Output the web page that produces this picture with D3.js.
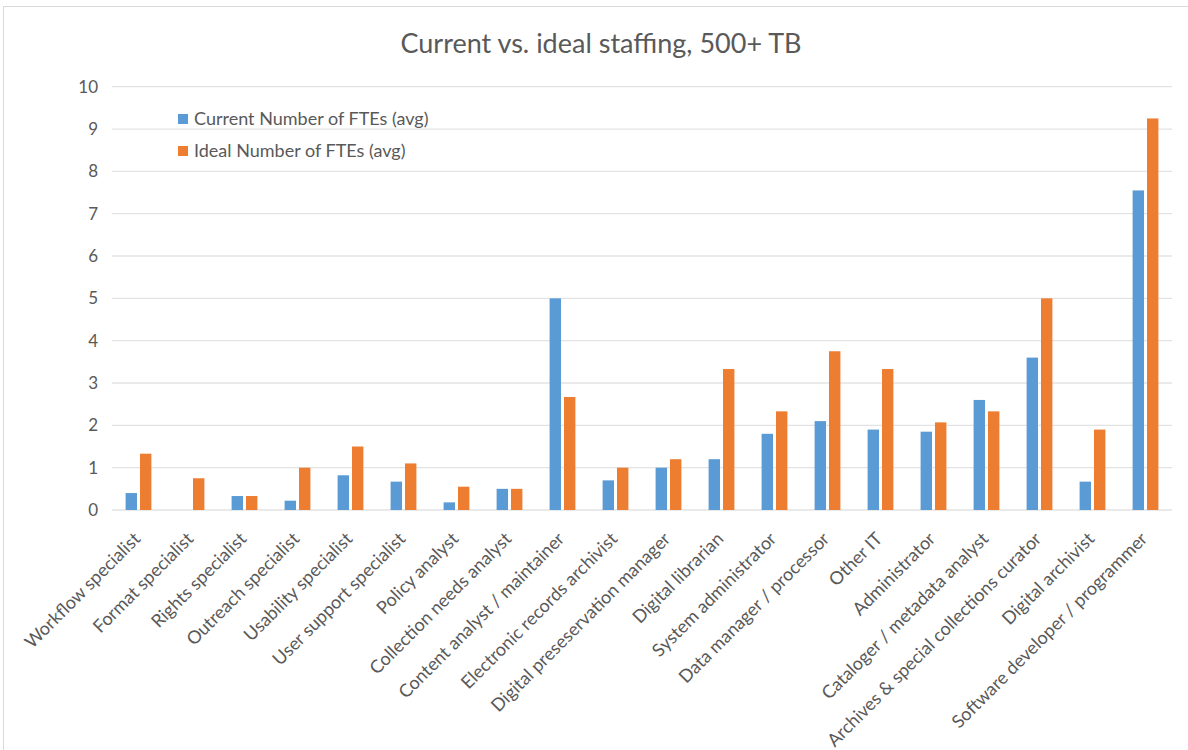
<!DOCTYPE html>
<html>
<head>
<meta charset="utf-8">
<script src="https://cdn.jsdelivr.net/npm/d3@7"></script>
<style>
  html, body { margin: 0; padding: 0; background: #fff; }
  svg { display: block; font-family: Lato, "Open Sans", sans-serif; }
</style>
</head>
<body>
<svg id="chart" width="1188" height="750"></svg>
<script>
const categories = [
  "Workflow specialist", "Format specialist", "Rights specialist", "Outreach specialist",
  "Usability specialist", "User support specialist", "Policy analyst", "Collection needs analyst",
  "Content analyst / maintainer", "Electronic records archivist", "Digital preseservation manager",
  "Digital librarian", "System administrator", "Data manager / processor", "Other IT",
  "Administrator", "Cataloger / metadata analyst", "Archives & special collections curator",
  "Digital archivist", "Software developer / programmer"
];
const currentFTE = [0.4, 0, 0.33, 0.22, 0.82, 0.67, 0.18, 0.5, 5.0, 0.7, 1.0, 1.2, 1.8, 2.1, 1.9, 1.85, 2.6, 3.6, 0.67, 7.55];
const idealFTE   = [1.33, 0.75, 0.33, 1.0, 1.5, 1.1, 0.55, 0.5, 2.67, 1.0, 1.2, 3.33, 2.33, 3.75, 3.33, 2.07, 2.33, 5.0, 1.9, 9.25];
const seriesNames = ["Current Number of FTEs (avg)", "Ideal Number of FTEs (avg)"];
const yTicks = [0, 1, 2, 3, 4, 5, 6, 7, 8, 9, 10];
const title = "Current vs. ideal staffing, 500+ TB";

const colors = ["#5B9BD5", "#ED7D31"];
const textColor = "#595959";
const svg = d3.select("#chart");

// chart frame
svg.append("rect").attr("x", 3.5).attr("y", 6.5).attr("width", 1200).attr("height", 760)
  .attr("fill", "#fff").attr("stroke", "#d9d9d9");

const plot = { left: 112, right: 1172, top: 86.7, bottom: 510 };

const x0 = d3.scaleBand().domain(categories).range([plot.left, plot.right]).padding(0);
const y = d3.scaleLinear().domain([0, 10]).range([plot.bottom, plot.top]);

// gridlines
svg.append("g").selectAll("line").data(yTicks).join("line")
  .attr("x1", plot.left).attr("x2", plot.right)
  .attr("y1", d => y(d)).attr("y2", d => y(d))
  .attr("stroke", "#e3e3e3").attr("stroke-width", 1.3);

// y tick labels
const yAxis = d3.axisLeft(y).tickValues(yTicks).tickSize(0).tickPadding(14);
const yg = svg.append("g").attr("transform", `translate(${plot.left},0)`).call(yAxis);
yg.select(".domain").remove();
yg.selectAll("text").attr("fill", textColor).style("font-size", "17px").style("font-family", "Lato, sans-serif");

// bars
const bw = x0.bandwidth();
const barW = bw * 0.215;
const gap = 3;
const x1 = d3.scaleOrdinal().domain([0, 1]).range([-(barW + gap / 2), gap / 2]);

const rows = categories.map((c, i) => ({ c, vals: [currentFTE[i], idealFTE[i]] }));
const groups = svg.append("g").selectAll("g").data(rows).join("g")
  .attr("transform", d => `translate(${x0(d.c) + bw / 2},0)`);
groups.selectAll("rect").data(d => d.vals.map((v, k) => ({ v, k }))).join("rect")
  .attr("x", d => x1(d.k))
  .attr("width", barW)
  .attr("y", d => y(d.v))
  .attr("height", d => y(0) - y(d.v))
  .attr("fill", d => colors[d.k]);

// x labels
const xAxis = d3.axisBottom(x0).tickSize(0).tickPadding(0);
const xg = svg.append("g").attr("transform", `translate(0,${plot.bottom})`).call(xAxis);
xg.select(".domain").remove();
xg.selectAll("text")
  .attr("fill", textColor)
  .style("font-size", "18px").style("font-family", "Lato, sans-serif")
  .attr("text-anchor", "end")
  .attr("dy", "0")
  .attr("y", 0)
  .attr("transform", "translate(3,30) rotate(-45)");

// title
svg.append("text").attr("x", 601).attr("y", 53).attr("text-anchor", "middle")
  .attr("fill", textColor).style("font-size", "27px").text(title);

// legend
const leg = svg.append("g").selectAll("g").data(seriesNames).join("g")
  .attr("transform", (d, i) => `translate(178,${114 + i * 32})`);
leg.append("rect").attr("width", 10).attr("height", 10).attr("fill", (d, i) => colors[i]);
leg.append("text").attr("x", 16).attr("y", 11).attr("fill", textColor)
  .style("font-size", "18px").text(d => d);
</script>
</body>
</html>
